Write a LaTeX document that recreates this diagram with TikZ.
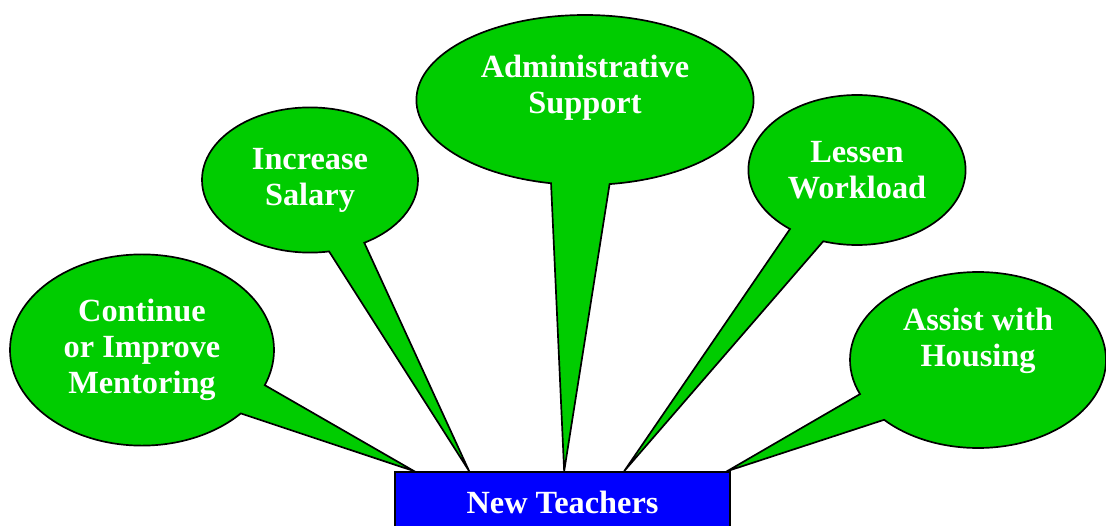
\documentclass[tikz,border=0pt]{standalone}
\usepackage{fontspec}
\setmainfont{Liberation Serif}[BoldFont={Liberation Serif Bold}]
\usepackage{xcolor}
\usetikzlibrary{shapes.callouts,calc,backgrounds}

\definecolor{leafgreen}{RGB}{0,204,0}
\newcommand{\liftup}[2]{\raisebox{#1}[\height][\depth]{\begin{tabular}{@{}c@{}}#2\end{tabular}}}

\begin{document}
\begin{tikzpicture}[
	bubble/.style={ellipse callout,draw=black,line width=1.2pt,fill=leafgreen,text=white,
		font=\fontsize{23}{25.5}\selectfont\bfseries,align=center,inner sep=0pt,callout pointer arc=20},
	teacherbox/.style={rectangle,draw=black,line width=1.2pt,fill=blue,text=white,
		font=\fontsize{23}{25.5}\selectfont\bfseries,minimum width=8.375cm,minimum height=1.5cm,inner sep=0pt}]
	\useasboundingbox (0,0) rectangle (27.65,13.125);
	\node[teacherbox] (teachers) at (14.0625,0.575) {New Teachers};
	% tips of the bubbles on top of the box
	\coordinate (tipA) at ($(teachers.north west)+(0.5,0)$);
	\coordinate (tipB) at ($(teachers.north west)+(1.875,0)$);
	\coordinate (tipC) at ($(teachers.north west)+(4.25,0)$);
	\coordinate (tipD) at ($(teachers.north west)+(5.75,0)$);
	\coordinate (tipE) at ($(teachers.north west)+(8.325,0)$);
	\begin{scope}[on background layer]
		\node[bubble,minimum width=6.6cm,minimum height=4.78cm,callout absolute pointer={(tipA)}] (mentoring) at (3.55,4.375) {Continue\\or Improve\\Mentoring};
		\node[bubble,minimum width=5.4cm,minimum height=3.63cm,callout absolute pointer={(tipB)}] (salary) at (7.75,8.625) {Increase\\Salary};
		\node[bubble,minimum width=8.43cm,minimum height=4.25cm,callout absolute pointer={(tipC)}] (admin) at (14.625,10.625) {\liftup{8.5pt}{Administrative\\Support}};
		\node[bubble,minimum width=5.43cm,minimum height=3.75cm,callout absolute pointer={(tipD)}] (workload) at (21.425,8.875) {Lessen\\Workload};
		\node[bubble,minimum width=6.4cm,minimum height=4.4cm,callout absolute pointer={(tipE)}] (housing) at (24.45,4.125) {\liftup{13.5pt}{Assist with\\Housing}};
	\end{scope}
\end{tikzpicture}
\end{document}
